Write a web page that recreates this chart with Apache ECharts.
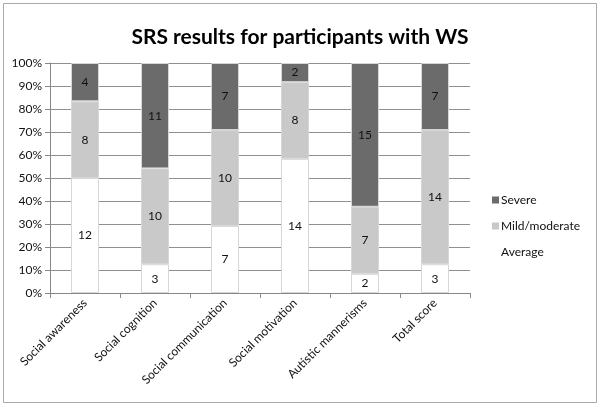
<!DOCTYPE html>
<html><head><meta charset="utf-8">
<script src="https://cdn.jsdelivr.net/npm/echarts@6/dist/echarts.min.js"></script>
<style>html,body{margin:0;padding:0;background:#fff}#c{width:600px;height:407px}</style>
</head><body><div id="c"></div>
<script>
const categories = ['Social awareness','Social cognition','Social communication','Social motivation','Autistic mannerisms','Total score'];
const average = [12, 3, 7, 14, 2, 3];
const mild = [8, 10, 10, 8, 7, 14];
const severe = [4, 11, 7, 2, 15, 7];
const yTicks = ['0%','10%','20%','30%','40%','50%','60%','70%','80%','90%','100%'];

const totals = categories.map((_, i) => average[i] + mild[i] + severe[i]);
const pct = arr => arr.map((v, i) => ({ value: v / totals[i] * 100, raw: v }));
const font = "Lato, sans-serif";
const mk = (name, arr, color) => ({
  name, type: 'bar', stack: 'a', barWidth: '40%', data: pct(arr),
  itemStyle: { color, borderColor: '#d6d6d6', borderWidth: 1 },
  label: { show: true, position: 'inside', formatter: p => p.data.raw, color: '#111', fontSize: 12, fontFamily: font }
});
const chart = echarts.init(document.getElementById('c'));
chart.setOption({
  animation: false,
  title: { text: 'SRS results for participants with WS', left: 'center', top: 22,
    textStyle: { fontFamily: font, fontWeight: 'bold', fontSize: 21, color: '#000' } },
  grid: { left: 50, right: 130, top: 63, bottom: 114 },
  legend: { orient: 'vertical', left: 487, top: 189, itemGap: 14, itemWidth: 7, itemHeight: 7,
    icon: 'rect', data: ['Severe', 'Mild/moderate', 'Average'],
    itemStyle: { borderWidth: 0 },
    textStyle: { fontFamily: font, fontSize: 12, color: '#111', padding: [0, 0, 0, -3] } },
  xAxis: { type: 'category', data: categories,
    axisLine: { lineStyle: { color: '#888' } },
    axisTick: { show: true, length: 5, lineStyle: { color: '#888' } },
    axisLabel: { rotate: 45, fontFamily: font, fontSize: 12, color: '#111', margin: 8 } },
  yAxis: { type: 'value', min: 0, max: 100, interval: 10,
    axisLine: { show: true, lineStyle: { color: '#888' } },
    axisTick: { show: true, length: 5, lineStyle: { color: '#888' } },
    splitLine: { lineStyle: { color: '#8f8f8f' } },
    axisLabel: { fontFamily: font, fontSize: 12, color: '#111', formatter: v => yTicks[Math.round(v / 10)] } },
  graphic: [{ type: 'rect', shape: { x: 3.5, y: 3.5, width: 593, height: 399 }, style: { fill: 'none', stroke: '#aaa', lineWidth: 1 }, silent: true, z: -1 }],
  series: [
    mk('Average', average, '#ffffff'),
    mk('Mild/moderate', mild, '#c9c9c9'),
    mk('Severe', severe, '#6b6b6b')
  ]
});
</script></body></html>
